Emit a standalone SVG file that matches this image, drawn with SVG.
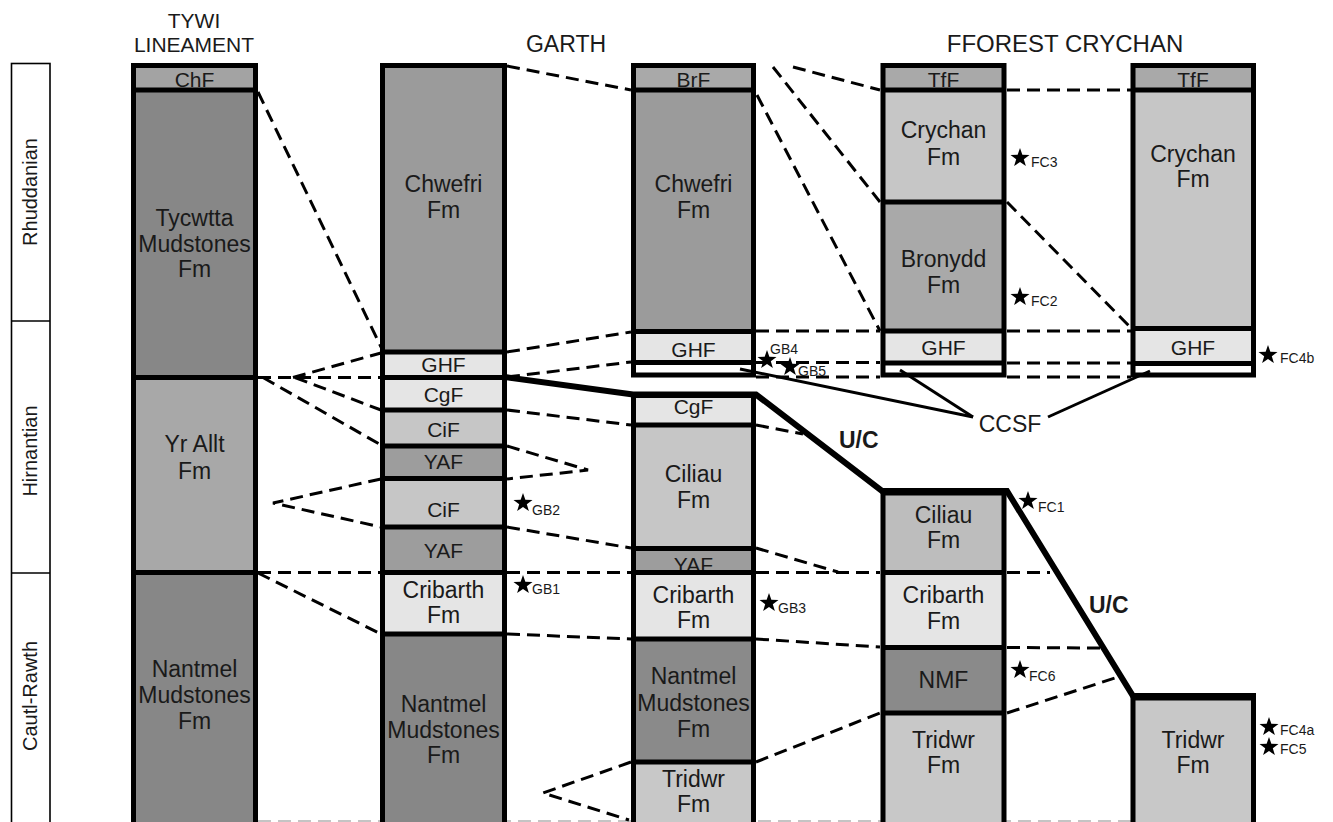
<svg xmlns="http://www.w3.org/2000/svg" width="1333" height="822" viewBox="0 0 1333 822">
<defs>
<style>
text{font-family:"Liberation Sans",Arial,sans-serif;fill:#1a1a1a}
.t{font-size:23px;text-anchor:middle}
.s{font-size:21px;text-anchor:middle}
.h{font-size:21px;text-anchor:middle}
.st{font-size:20px;text-anchor:middle}
.sl{font-size:14px}
.uc{font-size:23px;font-weight:bold}
.bx{fill:none;stroke:#000;stroke-width:5}
.dv{stroke:#000;stroke-width:5}
.d{fill:none;stroke:#000;stroke-width:3;stroke-dasharray:13 7}
.sol{fill:none;stroke:#000;stroke-width:3}
.dk{fill:#878787}.ch{fill:#a3a3a3}.ya{fill:#a8a8a8}.cw{fill:#9b9b9b}.lt{fill:#e5e5e5}
.ci{fill:#c6c6c6}.yf{fill:#9d9d9d}.br{fill:#a9a9a9}.wh{fill:#fff}.tr{fill:#c8c8c8}.nm{fill:#8a8a8a}
</style>
<path id="star" d="M0,-10 L2.35,-3.24 L9.51,-3.09 L3.8,1.24 L5.88,8.09 L0,4 L-5.88,8.09 L-3.8,1.24 L-9.51,-3.09 L-2.35,-3.24 Z" fill="#000"/>
</defs>
<rect width="1333" height="822" fill="#fff"/>

<g id="titles">
<text class="h" x="194" y="28">TYWI</text>
<text class="h" x="194" y="52">LINEAMENT</text>
<text class="h" x="566" y="52" style="font-size:23px">GARTH</text>
<text class="h" x="1065" y="52" style="font-size:24px">FFOREST CRYCHAN</text>
</g>

<g id="stages">
<rect x="11.5" y="63.5" width="38.5" height="770" fill="#fff" stroke="#000" stroke-width="1.6"/>
<line x1="11.5" y1="321" x2="50" y2="321" stroke="#000" stroke-width="1.6"/>
<line x1="11.5" y1="573" x2="50" y2="573" stroke="#000" stroke-width="1.6"/>
<text class="st" transform="translate(37,192) rotate(-90)">Rhuddanian</text>
<text class="st" transform="translate(37,451) rotate(-90)">Hirnantian</text>
<text class="st" transform="translate(37,696) rotate(-90)">Cautl-Rawth</text>
</g>

<g id="connectors">
<line x1="258" y1="821" x2="1131" y2="821" stroke="#c4c4c4" stroke-width="2" stroke-dasharray="13 7"/>
<line class="d" x1="258" y1="92" x2="381" y2="347"/>
<line class="d" x1="507" y1="66" x2="631" y2="90"/>
<line class="d" x1="773" y1="67" x2="880" y2="202"/>
<line class="d" x1="793" y1="67" x2="880" y2="90"/>
<line class="d" x1="757" y1="95" x2="880" y2="331"/>
<line class="d" x1="1007" y1="90" x2="1131" y2="90"/>
<line class="d" x1="1007" y1="202" x2="1131" y2="328"/>
<line class="d" x1="507" y1="352" x2="631" y2="332"/>
<line class="d" x1="756" y1="331" x2="880" y2="331"/>
<line class="d" x1="1007" y1="331" x2="1131" y2="331"/>
<line class="d" x1="507" y1="377" x2="631" y2="362"/>
<line class="d" x1="756" y1="362.5" x2="880" y2="362.5"/>
<line class="d" x1="1007" y1="363" x2="1131" y2="363"/>
<line class="d" x1="756" y1="377" x2="880" y2="377"/>
<line class="d" x1="1007" y1="377" x2="1131" y2="377"/>
<line class="d" x1="258" y1="377.5" x2="381" y2="377.5"/>
<line class="d" x1="293" y1="377.5" x2="381" y2="353"/>
<line class="d" x1="295" y1="377.5" x2="381" y2="410"/>
<line class="d" x1="263" y1="377.5" x2="381" y2="445"/>
<polyline class="d" points="381,479 273,503 381,527"/>
<polyline class="d" points="507,446 588,470 507,479"/>
<line class="d" x1="507" y1="410" x2="631" y2="425"/>
<line class="d" x1="756" y1="425" x2="803" y2="434"/>
<line class="d" x1="507" y1="527" x2="631" y2="548"/>
<line class="d" x1="756" y1="548" x2="838" y2="572"/>
<line class="d" x1="258" y1="572.5" x2="381" y2="572.5"/>
<line class="d" x1="507" y1="572.5" x2="631" y2="572.5"/>
<line class="d" x1="756" y1="572.5" x2="880" y2="572.5"/>
<line class="d" x1="1007" y1="572.5" x2="1050" y2="572.5"/>
<line class="d" x1="258" y1="573" x2="381" y2="634"/>
<line class="d" x1="507" y1="634" x2="631" y2="639"/>
<line class="d" x1="756" y1="639" x2="880" y2="647"/>
<line class="d" x1="1007" y1="647.5" x2="1100" y2="648"/>
<line class="d" x1="756" y1="762" x2="880" y2="713"/>
<line class="d" x1="1007" y1="713" x2="1118" y2="677"/>
<polyline class="d" points="631,762 543,793 629,820"/>
</g>

<g id="col-tywi">
<rect class="ch" x="133.5" y="65.5" width="122" height="24.5"/>
<rect class="dk" x="133.5" y="90" width="122" height="287.5"/>
<rect class="ya" x="133.5" y="377.5" width="122" height="195"/>
<rect class="dk" x="133.5" y="572.5" width="122" height="260"/>
<rect class="bx" x="133.5" y="65.5" width="122" height="770"/>
<line class="dv" x1="133.5" y1="90" x2="255.5" y2="90"/>
<line class="dv" x1="133.5" y1="377.5" x2="255.5" y2="377.5"/>
<line class="dv" x1="133.5" y1="572.5" x2="255.5" y2="572.5"/>
<text class="s" x="194.5" y="87">ChF</text>
<text class="t" x="194.5" y="226">Tycwtta</text>
<text class="t" x="194.5" y="252">Mudstones</text>
<text class="t" x="194.5" y="277">Fm</text>
<text class="t" x="194.5" y="452">Yr Allt</text>
<text class="t" x="194.5" y="479">Fm</text>
<text class="t" x="194.5" y="677">Nantmel</text>
<text class="t" x="194.5" y="703">Mudstones</text>
<text class="t" x="194.5" y="729">Fm</text>
</g>

<g id="col-garth-1">
<rect class="cw" x="382.5" y="65.5" width="122" height="286.5"/>
<rect class="lt" x="382.5" y="352" width="122" height="58"/>
<rect class="ci" x="382.5" y="410" width="122" height="36"/>
<rect class="yf" x="382.5" y="446" width="122" height="32.5"/>
<rect class="ci" x="382.5" y="478.5" width="122" height="48.5"/>
<rect class="yf" x="382.5" y="527" width="122" height="45.5"/>
<rect class="lt" x="382.5" y="572.5" width="122" height="61.5"/>
<rect class="dk" x="382.5" y="634" width="122" height="200"/>
<rect class="bx" x="382.5" y="65.5" width="122" height="770"/>
<line class="dv" x1="382.5" y1="352" x2="504.5" y2="352"/>
<line class="dv" x1="382.5" y1="377.5" x2="504.5" y2="377.5"/>
<line class="dv" x1="382.5" y1="410" x2="504.5" y2="410"/>
<line class="dv" x1="382.5" y1="446" x2="504.5" y2="446"/>
<line class="dv" x1="382.5" y1="478.5" x2="504.5" y2="478.5"/>
<line class="dv" x1="382.5" y1="527" x2="504.5" y2="527"/>
<line class="dv" x1="382.5" y1="572.5" x2="504.5" y2="572.5"/>
<line class="dv" x1="382.5" y1="634" x2="504.5" y2="634"/>
<text class="t" x="443.5" y="192">Chwefri</text>
<text class="t" x="443.5" y="218">Fm</text>
<text class="s" x="443.5" y="372">GHF</text>
<text class="s" x="443.5" y="402">CgF</text>
<text class="s" x="443.5" y="437">CiF</text>
<text class="s" x="443.5" y="469">YAF</text>
<text class="s" x="443.5" y="517">CiF</text>
<text class="s" x="443.5" y="558">YAF</text>
<text class="t" x="443.5" y="598">Cribarth</text>
<text class="t" x="443.5" y="623">Fm</text>
<text class="t" x="443.5" y="712">Nantmel</text>
<text class="t" x="443.5" y="738">Mudstones</text>
<text class="t" x="443.5" y="763">Fm</text>
</g>

<g id="col-garth-2">
<rect class="br" x="633.5" y="65.5" width="120" height="24.5"/>
<rect class="cw" x="633.5" y="90" width="120" height="241.5"/>
<rect class="lt" x="633.5" y="331.5" width="120" height="31"/>
<rect class="wh" x="633.5" y="362.5" width="120" height="12.5"/>
<rect class="bx" x="633.5" y="65.5" width="120" height="309.5"/>
<line class="dv" x1="633.5" y1="90" x2="753.5" y2="90"/>
<line class="dv" x1="633.5" y1="331.5" x2="753.5" y2="331.5"/>
<line class="dv" x1="633.5" y1="362.5" x2="753.5" y2="362.5"/>
<text class="s" x="693.5" y="87">BrF</text>
<text class="t" x="693.5" y="192">Chwefri</text>
<text class="t" x="693.5" y="218">Fm</text>
<text class="s" x="693.5" y="357">GHF</text>
<rect class="lt" x="633.5" y="395.5" width="120" height="29.5"/>
<rect class="ci" x="633.5" y="425" width="120" height="123.5"/>
<rect class="yf" x="633.5" y="548.5" width="120" height="24"/>
<rect class="lt" x="633.5" y="572.5" width="120" height="66.5"/>
<rect class="nm" x="633.5" y="639" width="120" height="123"/>
<rect class="tr" x="633.5" y="762" width="120" height="72"/>
<text class="s" x="693.5" y="414">CgF</text>
<text class="t" x="693.5" y="482">Ciliau</text>
<text class="t" x="693.5" y="508">Fm</text>
<text class="s" x="693.5" y="572">YAF</text>
<rect class="bx" x="633.5" y="395.5" width="120" height="440"/>
<line class="dv" x1="633.5" y1="425" x2="753.5" y2="425"/>
<line class="dv" x1="633.5" y1="548.5" x2="753.5" y2="548.5"/>
<line class="dv" x1="633.5" y1="572.5" x2="753.5" y2="572.5"/>
<line class="dv" x1="633.5" y1="639" x2="753.5" y2="639"/>
<line class="dv" x1="633.5" y1="762" x2="753.5" y2="762"/>
<text class="t" x="693.5" y="603">Cribarth</text>
<text class="t" x="693.5" y="628">Fm</text>
<text class="t" x="693.5" y="684">Nantmel</text>
<text class="t" x="693.5" y="711">Mudstones</text>
<text class="t" x="693.5" y="737">Fm</text>
<text class="t" x="693.5" y="787">Tridwr</text>
<text class="t" x="693.5" y="812">Fm</text>
</g>

<g id="col-fforest-1">
<rect class="br" x="883" y="65.5" width="121" height="24.5"/>
<rect class="ci" x="883" y="90" width="121" height="112"/>
<rect class="br" x="883" y="202" width="121" height="129"/>
<rect class="lt" x="883" y="331" width="121" height="32"/>
<rect class="wh" x="883" y="363" width="121" height="12"/>
<rect class="bx" x="883" y="65.5" width="121" height="309.5"/>
<line class="dv" x1="883" y1="90" x2="1004" y2="90"/>
<line class="dv" x1="883" y1="202" x2="1004" y2="202"/>
<line class="dv" x1="883" y1="331" x2="1004" y2="331"/>
<line class="dv" x1="883" y1="363" x2="1004" y2="363"/>
<text class="s" x="943.5" y="87">TfF</text>
<text class="t" x="943.5" y="138">Crychan</text>
<text class="t" x="943.5" y="165">Fm</text>
<text class="t" x="943.5" y="267">Bronydd</text>
<text class="t" x="943.5" y="293">Fm</text>
<text class="s" x="943.5" y="355">GHF</text>
<rect fill="#bdbdbd" x="883" y="493" width="121" height="79.5"/>
<rect class="lt" x="883" y="572.5" width="121" height="75"/>
<rect class="nm" x="883" y="647.5" width="121" height="65.5"/>
<rect class="tr" x="883" y="713" width="121" height="120"/>
<rect class="bx" x="883" y="493" width="121" height="343"/>
<line class="dv" x1="883" y1="572.5" x2="1004" y2="572.5"/>
<line class="dv" x1="883" y1="647.5" x2="1004" y2="647.5"/>
<line class="dv" x1="883" y1="713" x2="1004" y2="713"/>
<text class="t" x="943.5" y="523">Ciliau</text>
<text class="t" x="943.5" y="548">Fm</text>
<text class="t" x="943.5" y="603">Cribarth</text>
<text class="t" x="943.5" y="629">Fm</text>
<text class="t" x="943.5" y="688">NMF</text>
<text class="t" x="943.5" y="748">Tridwr</text>
<text class="t" x="943.5" y="773">Fm</text>
</g>

<g id="col-fforest-2">
<rect class="br" x="1133" y="65.5" width="120.5" height="24.5"/>
<rect class="ci" x="1133" y="90" width="120.5" height="238.5"/>
<rect class="lt" x="1133" y="328.5" width="120.5" height="35"/>
<rect class="wh" x="1133" y="363.5" width="120.5" height="11.5"/>
<rect class="bx" x="1133" y="65.5" width="120.5" height="309.5"/>
<line class="dv" x1="1133" y1="90" x2="1253.5" y2="90"/>
<line class="dv" x1="1133" y1="328.5" x2="1253.5" y2="328.5"/>
<line class="dv" x1="1133" y1="363.5" x2="1253.5" y2="363.5"/>
<text class="s" x="1193" y="87">TfF</text>
<text class="t" x="1193" y="162">Crychan</text>
<text class="t" x="1193" y="187">Fm</text>
<text class="s" x="1193" y="355">GHF</text>
<rect class="tr" x="1133" y="698" width="120.5" height="140"/>
<rect class="bx" x="1133" y="698" width="120.5" height="140"/>
<text class="t" x="1193" y="748">Tridwr</text>
<text class="t" x="1193" y="773">Fm</text>
</g>

<g id="uc-line">
<polyline points="505,377 633,394.5 756,394.5 882,491 1007,491 1133,696 1256,696" fill="none" stroke="#000" stroke-width="6" stroke-linejoin="miter"/>
<text class="uc" x="839" y="448">U/C</text>
<text class="uc" x="1089" y="613">U/C</text>
</g>

<g id="ccsf">
<line class="sol" x1="740" y1="369" x2="973" y2="417"/>
<line class="sol" x1="900" y1="370" x2="973" y2="417"/>
<line class="sol" x1="1048" y1="417" x2="1150" y2="371"/>
<text x="1010" y="432" style="font-size:23px;text-anchor:middle">CCSF</text>
</g>

<g id="samples">
<use href="#star" x="1020" y="158"/><text class="sl" x="1031" y="167">FC3</text>
<use href="#star" x="1020" y="297"/><text class="sl" x="1031" y="306">FC2</text>
<use href="#star" x="1268" y="355"/><text class="sl" x="1280" y="363">FC4b</text>
<use href="#star" x="1028" y="501"/><text class="sl" x="1038" y="512">FC1</text>
<use href="#star" x="1020" y="670"/><text class="sl" x="1029" y="681">FC6</text>
<use href="#star" x="1269" y="727"/><text class="sl" x="1280" y="735">FC4a</text>
<use href="#star" x="1269" y="747"/><text class="sl" x="1280" y="754">FC5</text>
<use href="#star" x="523" y="503"/><text class="sl" x="532" y="515">GB2</text>
<use href="#star" x="767" y="360"/><text class="sl" x="770" y="354">GB4</text>
<use href="#star" x="790" y="367"/><text class="sl" x="798" y="376">GB5</text>
<use href="#star" x="523" y="585"/><text class="sl" x="532" y="594">GB1</text>
<use href="#star" x="769" y="603"/><text class="sl" x="778" y="613">GB3</text>
</g>
</svg>
